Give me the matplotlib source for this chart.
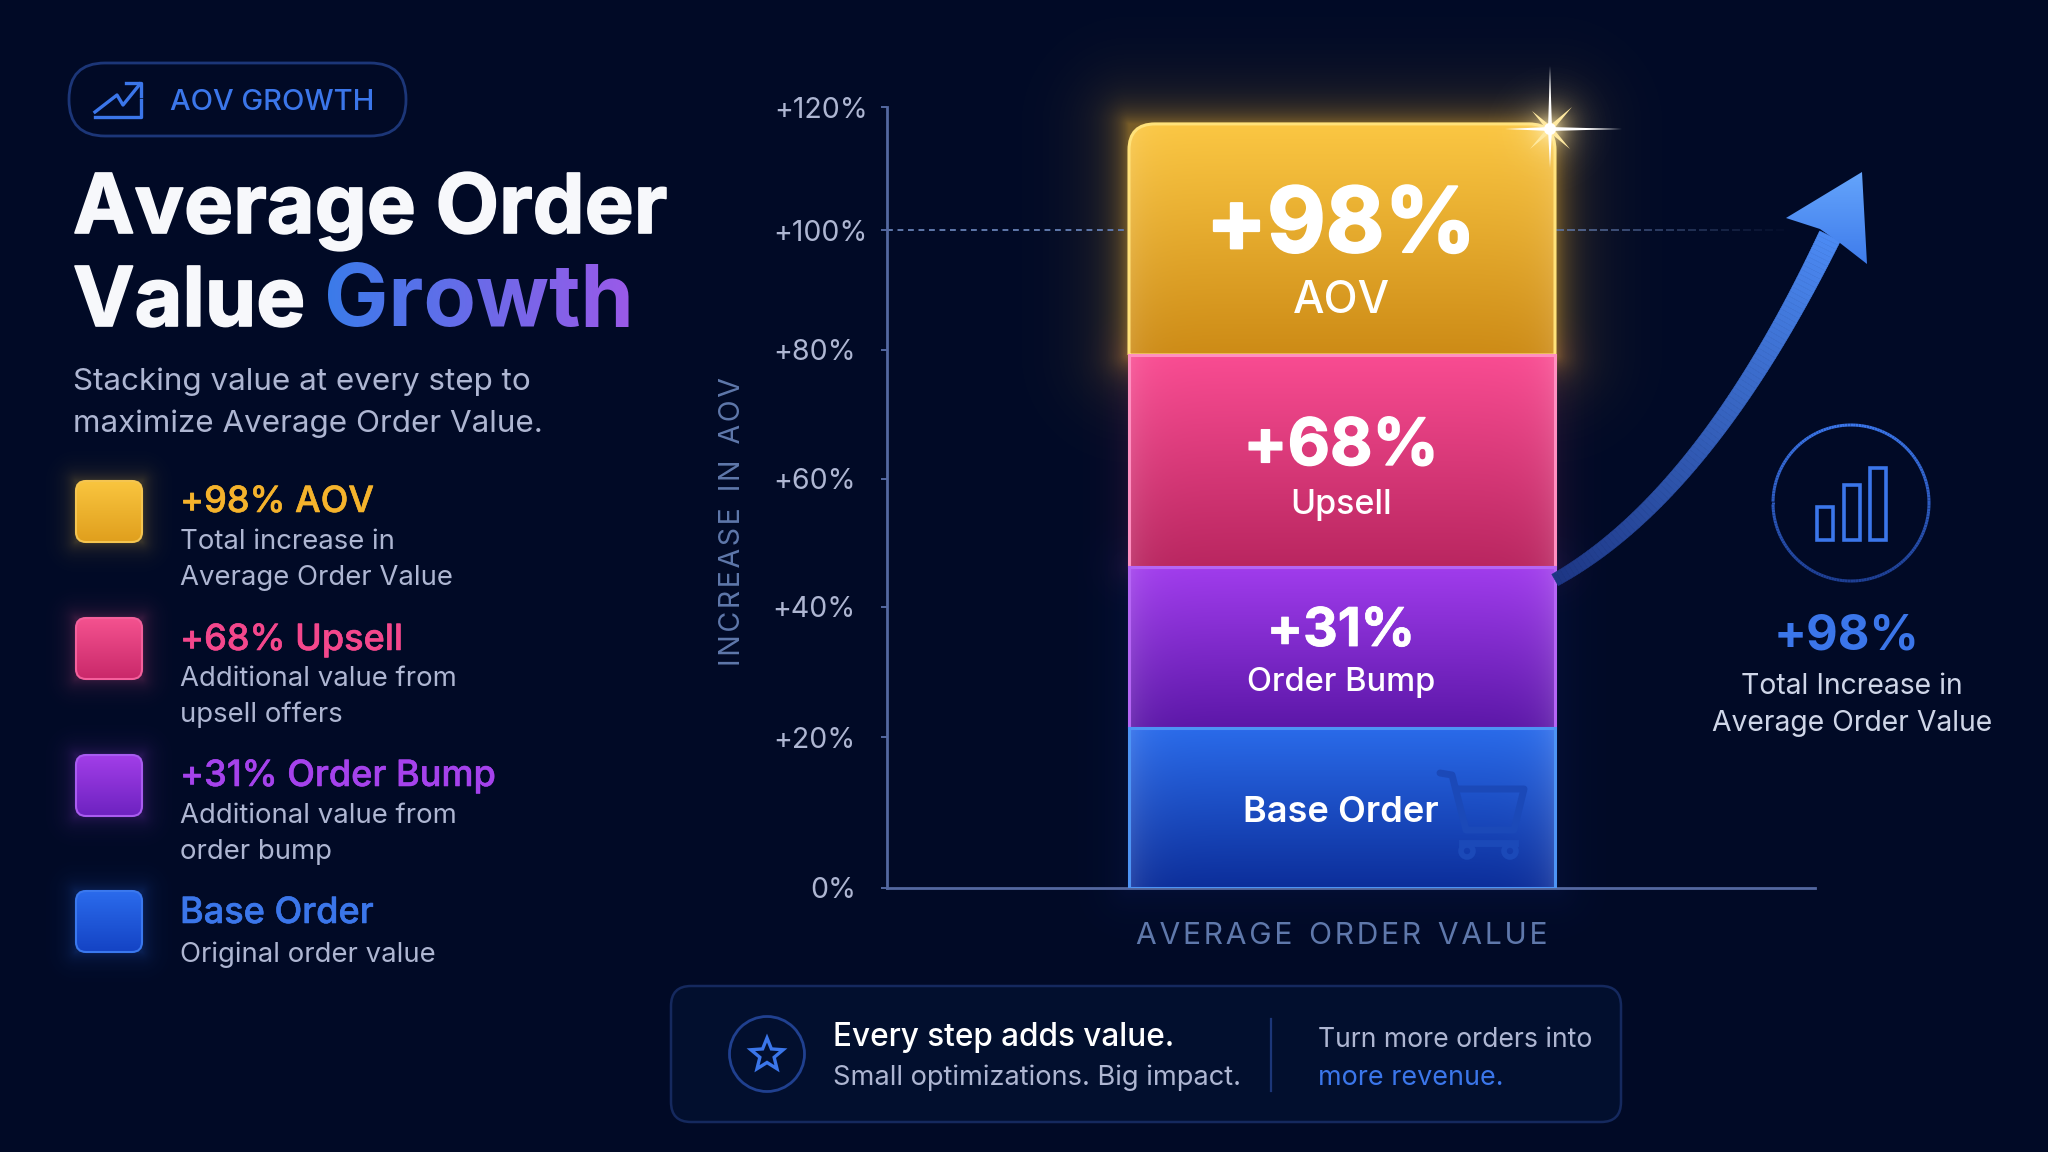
import numpy as np
import matplotlib
matplotlib.use('Agg')
from matplotlib import pyplot as plt
from matplotlib import patheffects
from matplotlib.collections import LineCollection, PolyCollection
from matplotlib.colors import to_rgb
from matplotlib.patches import Circle, FancyBboxPatch, PathPatch, Polygon
from matplotlib.path import Path

plt.rcParams['font.family'] = ['Inter', 'DejaVu Sans']

BG = '#010a26'
BLUE = '#3b76ea'
GREY = '#aeb6d2'

# stack, bottom to top, in axis units
segment_names = ['Base Order', 'Order Bump', 'Upsell', 'AOV']
segment_heights = [24.6, 24.7, 32.6, 35.5]
segment_pcts = ['', '+31%', '+68%', '+98%']

tick_positions = [0, 23.2, 43.2, 62.9, 82.7, 101.1, 120]
tick_labels = ['0%', '+20%', '+40%', '+60%', '+80%', '+100%', '+120%']

legend_titles = ['+98% AOV', '+68% Upsell', '+31% Order Bump', 'Base Order']
legend_lines = [['Total increase in', 'Average Order Value'],
                ['Additional value from', 'upsell offers'],
                ['Additional value from', 'order bump'],
                ['Original order value']]
legend_colors = ['#f5b32c', '#f4478c', '#a542ec', '#3b76ea']

# top colour, bottom colour, edge colour, same order as the stack
bar_top = ['#2a6bea', '#a03cec', '#f94c92', '#fbc743']
bar_bottom = ['#0c2e9a', '#5c17a8', '#b92660', '#cd8b16']
bar_edge = ['#4d94f5', '#b565f5', '#ff8fc0', '#ffe27a']

fig = plt.figure(figsize=(20.48, 11.52), dpi=100, facecolor=BG)

back = fig.add_axes([0, 0, 1, 1], zorder=0)
chart = fig.add_axes([887 / 2048, 1 - 888 / 1152, 928 / 2048, 781 / 1152], zorder=1)
top = fig.add_axes([0, 0, 1, 1], zorder=2)
for a in (back, top):
    a.set_xlim(0, 2048)
    a.set_ylim(1152, 0)
    a.axis('off')
top.patch.set_alpha(0)

xx, yy = np.meshgrid(np.arange(2048) + 0.5, np.arange(1152) + 0.5)


def add_glow(x0, y0, x1, y1, color, alpha, spread):
    dx = np.maximum(np.maximum(x0 - xx, xx - x1), 0)
    dy = np.maximum(np.maximum(y0 - yy, yy - y1), 0)
    d = np.hypot(dx, dy)
    img = np.zeros((1152, 2048, 4))
    img[..., :3] = to_rgb(color)
    img[..., 3] = alpha * np.exp(-d / spread)
    back.imshow(img, extent=(0, 2048, 1152, 0), aspect='auto', zorder=1)


def vgrad(c0, c1, n=128):
    t = np.linspace(0, 1, n)[:, None, None]
    return (1 - t) * np.array(to_rgb(c0))[None, None, :] + t * np.array(to_rgb(c1))[None, None, :]


def text(x, y, s, size, color, weight='normal', ha='left', ax=top, fat=0, **kw):
    t = ax.text(x, y, s, fontsize=size, color=color, fontweight=weight, ha=ha, va='baseline', **kw)
    if fat:
        t.set_path_effects([patheffects.withStroke(linewidth=fat, foreground=color)])
    return t


def swatch(x0, y0, x1, y1, c0, c1, edge):
    box = FancyBboxPatch((x0, y0), x1 - x0, y1 - y0, boxstyle='round,pad=0,rounding_size=10',
                         fc='none', ec=edge, lw=1.5, zorder=5)
    top.add_patch(box)
    im = top.imshow(vgrad(c0, c1), extent=(x0, x1, y1, y0), aspect='auto', zorder=4)
    im.set_clip_path(box)


def growth_gradient(img, dpi):
    t = np.linspace(0, 1, img.shape[1])[None, :, None]
    c0 = np.array(to_rgb('#3b7bea'))[None, None, :]
    c1 = np.array(to_rgb('#9a5ae8'))[None, None, :]
    img = img.copy()
    img[..., :3] = (1 - t) * c0 + t * c1
    return img, 0, 0


# left column
top.add_patch(FancyBboxPatch((69, 63), 337, 73, boxstyle='round,pad=0,rounding_size=36',
                             fc='none', ec='#1c3678', lw=2))
top.add_line(plt.Line2D([95, 117, 123, 140], [112, 95, 105, 84], color=BLUE, lw=2.4))
top.add_line(plt.Line2D([126, 141, 141], [83, 83, 96], color=BLUE, lw=2.4))
top.add_line(plt.Line2D([95, 141, 141], [117, 117, 100], color=BLUE, lw=2.4))
text(170, 110, 'AOV GROWTH', 21, BLUE, 'medium')

text(73, 233, 'Average Order', 59.4, '#f7f8fb', 'bold', fat=1.2)
text(73, 326, 'Value', 59.4, '#f7f8fb', 'bold', fat=1.2)
text(324, 326, 'Growth', 61.8, BLUE, 'bold').set_agg_filter(growth_gradient)
text(73, 390.5, 'Stacking value at every step to', 22.6, GREY)
text(73, 432.5, 'maximize Average Order Value.', 22.6, GREY)

swatch_tops = [481, 618, 755, 891]
swatch_colors = [('#f9c53f', '#e09f1d', '#f5c550'), ('#f4528f', '#c9286a', '#f4609c'),
                 ('#a23ee8', '#6d22c0', '#a95cf0'), ('#2b6bec', '#1443c4', '#3a78ee')]
title_y = [512, 650, 786, 923]
body_y = [[549, 585], [686, 722], [823, 859], [962]]
for i, title in enumerate(legend_titles):
    y0 = swatch_tops[i]
    add_glow(76, y0, 142, y0 + 61, swatch_colors[i][0], 0.22, 9)
    swatch(76, y0, 142, y0 + 61, *swatch_colors[i])
    text(180, title_y[i], title, 26, legend_colors[i], 'medium', fat=0.4)
    for line, y in zip(legend_lines[i], body_y[i]):
        text(180, y, line, 19.8, GREY)

# stacked bar
bar_x = (1342 - 887) / 928
bar_w = (1555 - 1129) / 928
bottoms = np.cumsum([0] + segment_heights[:-1])
bars = chart.bar([bar_x] * 4, segment_heights, bottom=bottoms, width=bar_w, color='none', linewidth=0)

chart.set_xlim(0, 1)
chart.set_ylim(0, 120)
chart.patch.set_alpha(0)


def outline(b, rounded):
    x0, x1 = b.get_x(), b.get_x() + b.get_width()
    y0, y1 = b.get_y(), b.get_y() + b.get_height()
    if not rounded:
        return Path([(x0, y0), (x0, y1), (x1, y1), (x1, y0), (x0, y0)])
    rx, ry = 26 / 928, 26 / 6.508
    verts = [(x0, y0), (x0, y1 - ry), (x0, y1), (x0 + rx, y1), (x1 - rx, y1), (x1, y1), (x1, y1 - ry),
             (x1, y0), (x0, y0)]
    codes = [Path.MOVETO, Path.LINETO, Path.CURVE3, Path.CURVE3, Path.LINETO, Path.CURVE3, Path.CURVE3,
             Path.LINETO, Path.LINETO]
    return Path(verts, codes)


for i, b in enumerate(bars):
    x0, x1 = b.get_x(), b.get_x() + b.get_width()
    y0, y1 = b.get_y(), b.get_y() + b.get_height()
    # lower segments sit on top so their light top edge shows
    shape = PathPatch(outline(b, i == 3), fc='none', ec=bar_edge[i], lw=2.2, zorder=4 + (3 - i) * 0.1)
    chart.add_patch(shape)
    grad = vgrad(bar_top[i], bar_bottom[i])
    side = np.linspace(0, 1, 128)
    side = 0.12 * np.exp(-np.minimum(side, 1 - side) / 0.04)[None, :, None]
    grad = grad + side * (1 - grad)
    im = chart.imshow(grad, extent=(x0, x1, y0, y1), aspect='auto', zorder=3)
    im.set_clip_path(shape)
chart.set_xlim(0, 1)
chart.set_ylim(0, 120)

add_glow(1129, 124, 1555, 355, '#f5b32c', 0.30, 10)
add_glow(1129, 124, 1555, 355, '#f5b32c', 0.28, 30)
add_glow(1129, 355, 1555, 567, '#f4478c', 0.10, 18)
add_glow(1129, 567, 1555, 888, '#2a4be0', 0.08, 22)

for s in ('top', 'right'):
    chart.spines[s].set_visible(False)
for s in ('left', 'bottom'):
    chart.spines[s].set_color('#5468a0')
    chart.spines[s].set_linewidth(2)
chart.set_xticks([])
chart.set_yticks(tick_positions, tick_labels)
chart.tick_params(axis='y', length=4, width=1.4, color='#5468a0', labelcolor=GREY, labelsize=20.5)
for tick, lab in zip(chart.yaxis.get_major_ticks(), tick_labels):
    tick.set_pad(10 if len(lab) == 5 else 18.5)
chart.set_xlabel('A\u200aV\u200aE\u200aR\u200aA\u200aG\u200aE  O\u200aR\u200aD\u200aE\u200aR  V\u200aA\u200aL\u200aU\u200aE',
                 fontsize=21.6, color='#5f78ab')
chart.xaxis.set_label_coords(bar_x, -0.0435, transform=chart.transAxes)
chart.xaxis.label.set_va('top')
chart.set_ylabel('I\u200aN\u200aC\u200aR\u200aE\u200aA\u200aS\u200aE  I\u200aN  A\u200aO\u200aV',
                 fontsize=20.5, color='#5f78ab')
chart.yaxis.set_label_coords((732 - 887) / 928, (888 - 522) / 781, transform=chart.transAxes)
chart.yaxis.label.set_va('center')

# dashed reference at the +100% tick, fades out on the right of the bar
ref_y = tick_positions[5]
chart.plot([0, (1129 - 887) / 928], [ref_y, ref_y], color='#5f78ab', lw=1.4, ls=(0, (3, 2.4)), zorder=2)
dash_x = np.arange(1557, 1790, 11)
for dx in dash_x:
    fade = 0.8 * (1 - (dx - 1557) / 233)
    chart.plot([(dx - 887) / 928, (dx + 6 - 887) / 928], [ref_y, ref_y], color='#5f78ab', lw=1.4, alpha=fade, zorder=2)

# bar labels
text(1341, 252, segment_pcts[3], 65, 'white', 'bold', ha='center', fat=1.5)
text(1341, 313, segment_names[3], 32, 'white', 'medium', ha='center')
text(1341, 465, segment_pcts[2], 47, 'white', 'bold', ha='center', fat=1)
text(1341, 514, segment_names[2], 24.5, 'white', 'medium', ha='center')
text(1341, 646, segment_pcts[1], 38.5, 'white', 'bold', ha='center', fat=0.6)
text(1341, 691, segment_names[1], 23.5, 'white', 'medium', ha='center')
text(1341, 822, segment_names[0], 26, 'white', 'semibold', ha='center')

# cart watermark in the base segment
cart = '#1b49b8'
top.add_line(plt.Line2D([1440, 1452, 1466, 1514, 1524, 1457], [773, 775, 830, 830, 789, 789],
                        color=cart, lw=5, solid_capstyle='round', solid_joinstyle='round', zorder=3))
top.add_line(plt.Line2D([1462, 1515], [843, 843], color=cart, lw=5, zorder=3))
top.add_patch(Circle((1467, 851), 6, fc='none', ec=cart, lw=4, zorder=3))
top.add_patch(Circle((1510, 851), 6, fc='none', ec=cart, lw=4, zorder=3))

# sparkle on the top right corner
cx, cy = 1550, 129
d = np.hypot(xx - cx, yy - cy)
spark = np.ones((1152, 2048, 4))
spark[..., :3] = to_rgb('#fff3c4')
spark[..., 3] = 0.95 * np.exp(-d / 13)
top.imshow(spark, extent=(0, 2048, 1152, 0), aspect='auto', zorder=8)
rays = [[(cx - 2, cy), (cx, 66), (cx + 2, cy), (cx, 168)],
        [(cx, cy - 2), (1622, cy), (cx, cy + 2), (1505, cy)],
        [(cx - 2, cy - 2), (cx + 22, cy - 22), (cx + 2, cy + 2), (cx - 20, cy + 20)],
        [(cx - 2, cy + 2), (cx - 18, cy - 18), (cx + 2, cy - 2), (cx + 20, cy + 20)]]
top.add_collection(PolyCollection(rays, facecolors=['#ffffff', '#ffffff', '#ffe9a0', '#ffe9a0'],
                                  edgecolors='none', zorder=9))
top.add_patch(Circle((cx, cy), 6, fc='white', ec='none', zorder=10))

# growth arrow
t = np.linspace(0, 1, 90)[:, None]
p0, p1, p2, p3 = (np.array(p, float) for p in [(1555, 580), (1680, 510), (1770, 360), (1830, 236)])
curve = (1 - t) ** 3 * p0 + 3 * (1 - t) ** 2 * t * p1 + 3 * (1 - t) * t ** 2 * p2 + t ** 3 * p3
tang = np.gradient(curve, axis=0)
norm = np.column_stack([-tang[:, 1], tang[:, 0]]) / np.hypot(tang[:, 0], tang[:, 1])[:, None]
half = 6.5 + 5 * t
left, right = curve + norm * half, curve - norm * half
strips = [[left[i], left[i + 1], right[i + 1], right[i]] for i in range(len(curve) - 1)]
c0, c1 = np.array(to_rgb('#1d3684')), np.array(to_rgb('#4c8af3'))
cols = [(1 - v) * c0 + v * c1 for v in np.linspace(0, 1, len(strips))]
top.add_collection(PolyCollection(strips, facecolors=cols, edgecolors=cols, linewidths=0.4, zorder=6))
head = Polygon([(1862, 172), (1867, 264), (1840, 243), (1820, 229), (1786, 218)], closed=True, fc='none', ec='none')
top.add_patch(head)
im = top.imshow(vgrad('#64a4fb', '#3f7cec'), extent=(1786, 1867, 264, 172), aspect='auto', zorder=6)
im.set_clip_path(head)

# badge on the right
a = np.linspace(0, 2 * np.pi, 180)
px, py = 1851 + 78 * np.cos(a), 503 + 78 * np.sin(a)
segs = np.stack([np.column_stack([px[:-1], py[:-1]]), np.column_stack([px[1:], py[1:]])], axis=1)
ring_c = [(1 - v) * np.array(to_rgb('#3b76ea')) + v * np.array(to_rgb('#1e3f94')) for v in (py[:-1] - 425) / 156]
top.add_collection(LineCollection(segs, colors=ring_c, linewidths=2.2))
for x, y in [(1817, 507), (1844, 485), (1870, 468)]:
    top.add_patch(plt.Rectangle((x, y), 16, 540 - y, fc='none', ec=BLUE, lw=2.6))
text(1846, 650, '+98%', 35, BLUE, 'bold', ha='center')
text(1852, 694, 'Total Increase in', 20.4, '#cfd6e8', ha='center')
text(1852, 731, 'Average Order Value', 20.4, '#cfd6e8', ha='center')

# bottom panel
top.add_patch(FancyBboxPatch((671, 986), 950, 136, boxstyle='round,pad=0,rounding_size=20',
                             fc='#020f2e', ec='#15295e', lw=1.8, zorder=1))
top.add_patch(Circle((767, 1054), 37.5, fc='none', ec='#20408f', lw=2, zorder=2))
ang = np.pi / 2 + np.arange(10) * np.pi / 5
rad = np.where(np.arange(10) % 2 == 0, 17, 7.5)
top.add_patch(Polygon(np.column_stack([767 + rad * np.cos(ang), 1055 - rad * np.sin(ang)]), closed=True,
                      fc='none', ec=BLUE, lw=2.4, zorder=2))
text(833, 1046, 'Every step adds value.', 22.7, 'white', 'medium')
text(833, 1085, 'Small optimizations. Big impact.', 19.6, GREY)
top.add_line(plt.Line2D([1271, 1271], [1019, 1091], color='#1c3678', lw=1.6))
text(1318, 1047, 'Turn more orders into', 19.2, GREY)
text(1318, 1085, 'more revenue.', 19.4, BLUE)

top.set_xlim(0, 2048)
top.set_ylim(1152, 0)
back.set_xlim(0, 2048)
back.set_ylim(1152, 0)
fig.savefig('out.png', dpi=100, facecolor=BG)
